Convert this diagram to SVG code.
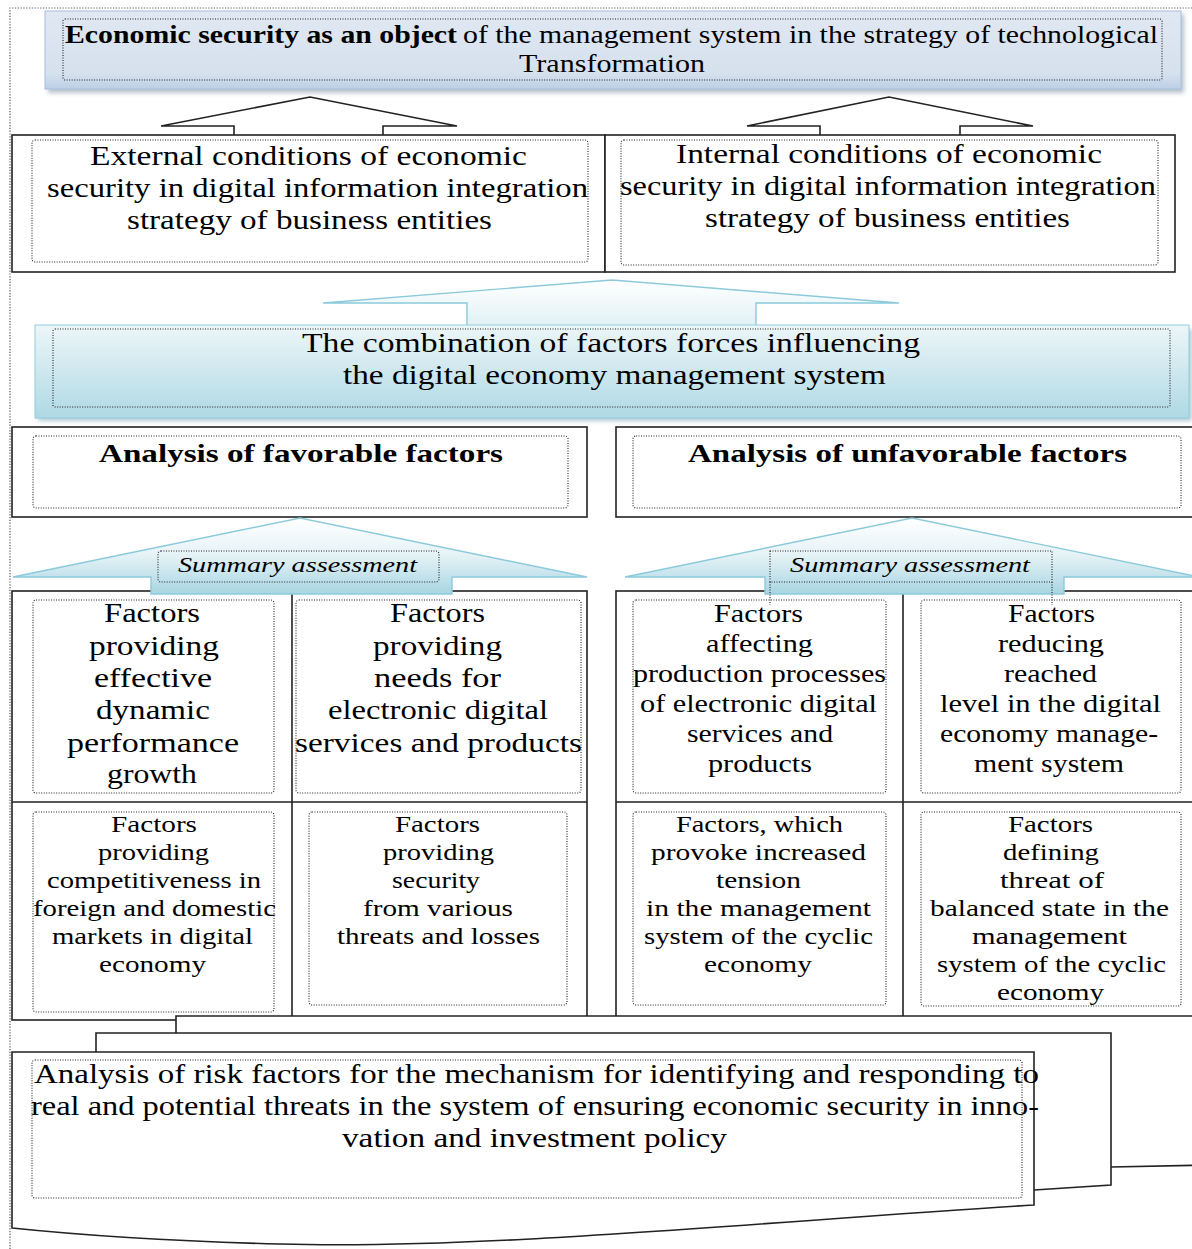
<svg xmlns="http://www.w3.org/2000/svg" width="1192" height="1249" viewBox="0 0 1192 1249">
<style>
.frame{fill:none;stroke:#555;stroke-width:1.2;stroke-dasharray:1.2 1.6}
.box{fill:#fff;stroke:#222;stroke-width:1.6}
.ln{fill:none;stroke:#222;stroke-width:1.6}
.dot{fill:none;stroke:#222;stroke-width:1.1;stroke-dasharray:1 1.5}
.ti{font-family:"Liberation Serif","Times New Roman",serif;fill:#000}
.cb{font-family:"Liberation Serif","Times New Roman",serif;fill:#000}
.s26{font-size:27.5px}
.s24{font-size:25px}
.s22{font-size:23.5px}
.outl{fill:#fff;stroke:#222;stroke-width:1.6}
.cy{stroke:#8ccadb;stroke-width:1.4}
</style>
<defs>
<linearGradient id="gTop" x1="0" y1="0" x2="0" y2="1">
<stop offset="0" stop-color="#e0e8f2"/><stop offset="0.8" stop-color="#d6e1ee"/><stop offset="1" stop-color="#bccfe6"/>
</linearGradient>
<linearGradient id="gComb" x1="0" y1="0" x2="0" y2="1">
<stop offset="0" stop-color="#edf6f8"/><stop offset="1" stop-color="#afd9e4"/>
</linearGradient>
<linearGradient id="gArr" x1="0" y1="0" x2="0" y2="1">
<stop offset="0" stop-color="#ffffff"/><stop offset="0.5" stop-color="#e4f2f6"/><stop offset="1" stop-color="#a8d5e2"/>
</linearGradient>
<linearGradient id="gArr2" x1="0" y1="0" x2="0" y2="1">
<stop offset="0" stop-color="#ffffff"/><stop offset="1" stop-color="#e0f1f5"/>
</linearGradient>
<filter id="sh" x="-5%" y="-20%" width="110%" height="140%">
<feGaussianBlur stdDeviation="2"/>
</filter>
</defs>

<path class="frame" d="M10,1249 V8 H1192"/>

<g id="connectors">
<path class="outl" d="M234,137 V126 H161 L310,97 L457,126 H383 V137"/>
<path class="outl" d="M820,137 V126 H747 L889,97 L1033,126 H960 V137"/>
<path fill="url(#gArr2)" class="cy" d="M467,327 V303 H323 L612,280 L899,303 H756 V327"/>
</g>

<g id="title">
<rect x="48" y="14" width="1136" height="79" fill="#9aa8b8" opacity="0.7" filter="url(#sh)"/>
<rect x="45" y="11" width="1136" height="78" fill="url(#gTop)" stroke="#a9c0dc" stroke-width="1"/>
<rect x="63" y="19" width="1099" height="61" rx="2" class="dot"/>
<text class="ti" font-size="26" font-weight="bold" x="65" y="43" textLength="392" lengthAdjust="spacingAndGlyphs">Economic security as an object</text>
<text class="ti" font-size="26" x="463" y="43" textLength="695" lengthAdjust="spacingAndGlyphs">of the management system in the strategy of technological</text>
<text class="ti" font-size="26" x="519" y="72" textLength="186" lengthAdjust="spacingAndGlyphs">Transformation</text>
</g>

<g id="external">
<rect class="box" x="12" y="135" width="593" height="137"/>
<rect class="dot" x="32" y="140" width="556" height="122" rx="3"/>
<text class="cb s26" x="90" y="165" textLength="437" lengthAdjust="spacingAndGlyphs">External conditions of economic</text>
<text class="cb s26" x="47" y="197" textLength="541" lengthAdjust="spacingAndGlyphs">security in digital information integration</text>
<text class="cb s26" x="127" y="229" textLength="365" lengthAdjust="spacingAndGlyphs">strategy of business entities</text>
</g>

<g id="internal">
<rect class="box" x="605" y="135" width="570" height="137"/>
<rect class="dot" x="621" y="140" width="537" height="125" rx="3"/>
<text class="cb s26" x="676" y="163" textLength="426" lengthAdjust="spacingAndGlyphs">Internal conditions of economic</text>
<text class="cb s26" x="620" y="195" textLength="536" lengthAdjust="spacingAndGlyphs">security in digital information integration</text>
<text class="cb s26" x="705" y="227" textLength="365" lengthAdjust="spacingAndGlyphs">strategy of business entities</text>
</g>

<g id="combination">
<rect x="38" y="329" width="1154" height="92" fill="#8fb7c4" opacity="0.7" filter="url(#sh)"/>
<rect x="35" y="325" width="1154" height="93" fill="url(#gComb)" stroke="#93cddd" stroke-width="1"/>
<rect class="dot" x="53" y="329" width="1117" height="78" rx="2"/>
<text class="cb s26" x="302" y="352" textLength="618" lengthAdjust="spacingAndGlyphs">The combination of factors forces influencing</text>
<text class="cb s26" x="343" y="384" textLength="543" lengthAdjust="spacingAndGlyphs">the digital economy management system</text>
</g>

<g id="favorable">
<rect class="box" x="12" y="427" width="575" height="90"/>
<rect class="dot" x="33" y="436" width="535" height="72" rx="3"/>
<text class="ti" font-size="25" font-weight="bold" x="99" y="462" textLength="404" lengthAdjust="spacingAndGlyphs">Analysis of favorable factors</text>
</g>

<g id="unfavorable">
<rect class="box" x="616" y="427" width="590" height="90"/>
<rect class="dot" x="633" y="436" width="548" height="72" rx="3"/>
<text class="ti" font-size="25" font-weight="bold" x="688" y="462" textLength="439" lengthAdjust="spacingAndGlyphs">Analysis of unfavorable factors</text>
</g>

<g id="favorable-grid">
<rect class="box" x="12" y="591" width="575" height="429"/>
<path class="ln" d="M292,591 V1020 M12,802 H587"/>
</g>
<g id="unfavorable-grid">
<rect class="box" x="616" y="591" width="590" height="426"/>
<path class="ln" d="M903,591 V1017 M616,802 H1206"/>
</g>

<g id="summary-left">
<path fill="url(#gArr)" class="cy" d="M151,594 V577 H13 L300,518 L587,577 H452 V594 Z"/>
<rect class="dot" x="158" y="551" width="281" height="31" rx="3"/>
<text class="ti" font-size="22" font-style="italic" x="178" y="572" textLength="239" lengthAdjust="spacingAndGlyphs">Summary assessment</text>
</g>
<g id="summary-right">
<path fill="url(#gArr)" class="cy" d="M765,594 V577 H625 L912,518 L1199,577 H1064 V594 Z"/>
<rect class="dot" x="770" y="551" width="282" height="31"/>
<path class="dot" d="M770,582 V605 M1052,582 V605"/>
<text class="ti" font-size="22" font-style="italic" x="790" y="572" textLength="240" lengthAdjust="spacingAndGlyphs">Summary assessment</text>
</g>

<g id="fav-1">
<rect class="dot" x="33" y="600" width="241" height="193" rx="3"/>
<text class="cb s26" x="104" y="622" textLength="96" lengthAdjust="spacingAndGlyphs">Factors</text>
<text class="cb s26" x="89" y="655" textLength="130" lengthAdjust="spacingAndGlyphs">providing</text>
<text class="cb s26" x="94" y="687" textLength="118" lengthAdjust="spacingAndGlyphs">effective</text>
<text class="cb s26" x="96" y="719" textLength="114" lengthAdjust="spacingAndGlyphs">dynamic</text>
<text class="cb s26" x="67" y="752" textLength="172" lengthAdjust="spacingAndGlyphs">performance</text>
<text class="cb s26" x="107" y="783" textLength="90" lengthAdjust="spacingAndGlyphs">growth</text>
</g>
<g id="fav-2">
<rect class="dot" x="296" y="600" width="285" height="193" rx="3"/>
<text class="cb s26" x="390" y="622" textLength="95" lengthAdjust="spacingAndGlyphs">Factors</text>
<text class="cb s26" x="373" y="655" textLength="129" lengthAdjust="spacingAndGlyphs">providing</text>
<text class="cb s26" x="374" y="687" textLength="127" lengthAdjust="spacingAndGlyphs">needs for</text>
<text class="cb s26" x="328" y="719" textLength="220" lengthAdjust="spacingAndGlyphs">electronic digital</text>
<text class="cb s26" x="295" y="752" textLength="287" lengthAdjust="spacingAndGlyphs">services and products</text>
</g>
<g id="fav-3">
<rect class="dot" x="33" y="812" width="241" height="200" rx="3"/>
<text class="cb s22" x="111" y="832" textLength="86" lengthAdjust="spacingAndGlyphs">Factors</text>
<text class="cb s22" x="98" y="860" textLength="111" lengthAdjust="spacingAndGlyphs">providing</text>
<text class="cb s22" x="47" y="888" textLength="214" lengthAdjust="spacingAndGlyphs">competitiveness in</text>
<text class="cb s22" x="33" y="916" textLength="243" lengthAdjust="spacingAndGlyphs">foreign and domestic</text>
<text class="cb s22" x="52" y="944" textLength="201" lengthAdjust="spacingAndGlyphs">markets in digital</text>
<text class="cb s22" x="99" y="972" textLength="107" lengthAdjust="spacingAndGlyphs">economy</text>
</g>
<g id="fav-4">
<rect class="dot" x="309" y="812" width="258" height="193" rx="3"/>
<text class="cb s22" x="395" y="832" textLength="85" lengthAdjust="spacingAndGlyphs">Factors</text>
<text class="cb s22" x="383" y="860" textLength="111" lengthAdjust="spacingAndGlyphs">providing</text>
<text class="cb s22" x="392" y="888" textLength="88" lengthAdjust="spacingAndGlyphs">security</text>
<text class="cb s22" x="363" y="916" textLength="150" lengthAdjust="spacingAndGlyphs">from various</text>
<text class="cb s22" x="337" y="944" textLength="203" lengthAdjust="spacingAndGlyphs">threats and losses</text>
</g>

<g id="unfav-1">
<rect class="dot" x="633" y="600" width="253" height="193" rx="3"/>
<text class="cb s24" x="714" y="622" textLength="89" lengthAdjust="spacingAndGlyphs">Factors</text>
<text class="cb s24" x="706" y="652" textLength="107" lengthAdjust="spacingAndGlyphs">affecting</text>
<text class="cb s24" x="633" y="682" textLength="253" lengthAdjust="spacingAndGlyphs">production processes</text>
<text class="cb s24" x="640" y="712" textLength="237" lengthAdjust="spacingAndGlyphs">of electronic digital</text>
<text class="cb s24" x="687" y="742" textLength="146" lengthAdjust="spacingAndGlyphs">services and</text>
<text class="cb s24" x="708" y="772" textLength="104" lengthAdjust="spacingAndGlyphs">products</text>
</g>
<g id="unfav-2">
<rect class="dot" x="921" y="600" width="260" height="193" rx="3"/>
<text class="cb s24" x="1008" y="622" textLength="87" lengthAdjust="spacingAndGlyphs">Factors</text>
<text class="cb s24" x="998" y="652" textLength="106" lengthAdjust="spacingAndGlyphs">reducing</text>
<text class="cb s24" x="1004" y="682" textLength="93" lengthAdjust="spacingAndGlyphs">reached</text>
<text class="cb s24" x="940" y="712" textLength="221" lengthAdjust="spacingAndGlyphs">level in the digital</text>
<text class="cb s24" x="940" y="742" textLength="218" lengthAdjust="spacingAndGlyphs">economy manage-</text>
<text class="cb s24" x="974" y="772" textLength="150" lengthAdjust="spacingAndGlyphs">ment system</text>
</g>
<g id="unfav-3">
<rect class="dot" x="633" y="812" width="253" height="193" rx="3"/>
<text class="cb s22" x="676" y="832" textLength="167" lengthAdjust="spacingAndGlyphs">Factors, which</text>
<text class="cb s22" x="651" y="860" textLength="215" lengthAdjust="spacingAndGlyphs">provoke increased</text>
<text class="cb s22" x="716" y="888" textLength="85" lengthAdjust="spacingAndGlyphs">tension</text>
<text class="cb s22" x="646" y="916" textLength="225" lengthAdjust="spacingAndGlyphs">in the management</text>
<text class="cb s22" x="644" y="944" textLength="229" lengthAdjust="spacingAndGlyphs">system of the cyclic</text>
<text class="cb s22" x="704" y="972" textLength="108" lengthAdjust="spacingAndGlyphs">economy</text>
</g>
<g id="unfav-4">
<rect class="dot" x="921" y="812" width="260" height="194" rx="3"/>
<text class="cb s22" x="1008" y="832" textLength="85" lengthAdjust="spacingAndGlyphs">Factors</text>
<text class="cb s22" x="1003" y="860" textLength="96" lengthAdjust="spacingAndGlyphs">defining</text>
<text class="cb s22" x="1000" y="888" textLength="104" lengthAdjust="spacingAndGlyphs">threat of</text>
<text class="cb s22" x="930" y="916" textLength="239" lengthAdjust="spacingAndGlyphs">balanced state in the</text>
<text class="cb s22" x="972" y="944" textLength="155" lengthAdjust="spacingAndGlyphs">management</text>
<text class="cb s22" x="937" y="972" textLength="229" lengthAdjust="spacingAndGlyphs">system of the cyclic</text>
<text class="cb s22" x="997" y="1000" textLength="107" lengthAdjust="spacingAndGlyphs">economy</text>
</g>

<g id="risk-analysis">
<path class="box" d="M176,1060 V1016 H1210 V1165 L1111,1167 L176,1170 Z"/>
<path class="box" d="M96,1070 V1033 H1111 V1185 L1034,1190 L96,1195 Z"/>
<path class="box" d="M12,1052 H1034 V1205 C760,1222 480,1250 280,1244 C160,1241 70,1234 12,1228 Z"/>
<rect class="dot" x="32" y="1060" width="990" height="138" rx="3"/>
<text class="cb s26" x="34" y="1083" textLength="1005" lengthAdjust="spacingAndGlyphs">Analysis of risk factors for the mechanism for identifying and responding to</text>
<text class="cb s26" x="31" y="1115" textLength="1008" lengthAdjust="spacingAndGlyphs">real and potential threats in the system of ensuring economic security in inno-</text>
<text class="cb s26" x="342" y="1147" textLength="385" lengthAdjust="spacingAndGlyphs">vation and investment policy</text>
</g>
</svg>
